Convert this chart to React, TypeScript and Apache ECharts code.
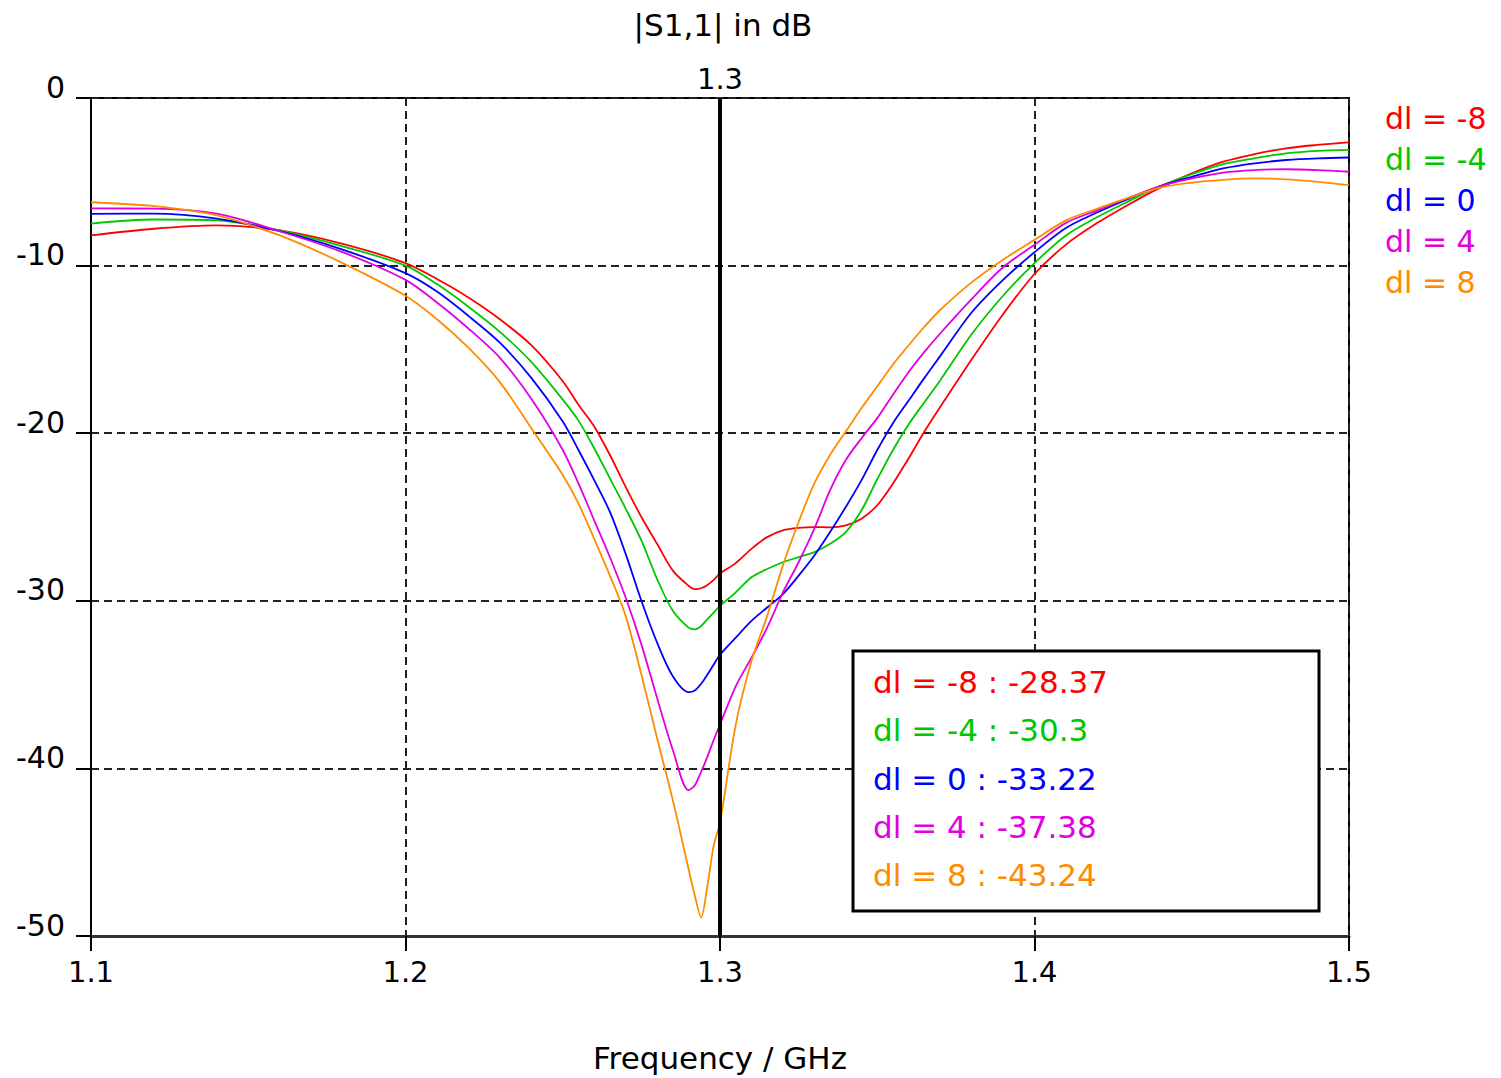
import React, { useEffect, useRef } from "react";
import * as echarts from "echarts";

const FREQ = [
  1.1, 1.12, 1.14, 1.16, 1.18, 1.2, 1.21, 1.22, 1.23, 1.24, 1.25, 1.255, 1.26, 1.265, 1.27, 1.275, 1.28, 1.285,
  1.29, 1.292, 1.294, 1.296, 1.298, 1.3, 1.305, 1.31, 1.315, 1.32, 1.325, 1.33, 1.335, 1.34, 1.345, 1.35, 1.355,
  1.36, 1.365, 1.37, 1.38, 1.39, 1.4, 1.41, 1.42, 1.43, 1.44, 1.45, 1.46, 1.47, 1.48, 1.49, 1.5,
];

const DL_M8 = [
  -8.2, -7.8, -7.6, -7.9, -8.7, -9.85, -10.8, -11.9, -13.2, -14.75, -16.9, -18.3, -19.6, -21.3, -23.2, -25.0, -26.6, -28.2,
  -29.1, -29.3, -29.25, -29.05, -28.75, -28.37, -27.75, -26.9, -26.2, -25.8, -25.65, -25.6, -25.62, -25.5, -25.1, -24.3, -23.0,
  -21.5, -19.9, -18.44, -15.6, -12.9, -10.5, -8.75, -7.45, -6.35, -5.35, -4.5, -3.8, -3.35, -3.0, -2.8, -2.65,
];
const DL_M4 = [
  -7.49, -7.25, -7.3, -7.9, -8.85, -10.0, -11.1, -12.45, -13.95, -15.75, -18.0, -19.25, -20.9, -22.7, -24.5, -26.4, -28.7, -30.6,
  -31.6, -31.7, -31.5, -31.1, -30.7, -30.3, -29.5, -28.6, -28.1, -27.7, -27.4, -27.1, -26.6, -25.9, -24.6, -22.75, -21.0,
  -19.47, -18.15, -16.85, -14.1, -11.8, -9.85, -8.2, -7.1, -6.15, -5.25, -4.55, -3.95, -3.6, -3.3, -3.15, -3.1,
];
const DL_0 = [
  -6.91, -6.9, -7.2, -7.95, -9.05, -10.45, -11.55, -13.0, -14.6, -16.7, -19.3, -21.0, -22.8, -24.7, -27.2, -30.0, -32.5, -34.5,
  -35.45, -35.35, -34.95, -34.4, -33.8, -33.22, -32.2, -31.2, -30.4, -29.6, -28.5, -27.3, -25.9, -24.4, -22.8, -21.0, -19.4,
  -18.05, -16.7, -15.4, -12.8, -10.85, -9.2, -7.75, -6.82, -6.0, -5.25, -4.7, -4.2, -3.9, -3.7, -3.6, -3.55,
];
const DL_P4 = [
  -6.59, -6.6, -6.9, -7.95, -9.2, -10.85, -12.2, -13.75, -15.5, -17.95, -21.0, -23.0, -25.2, -27.4, -29.8, -32.6, -35.8, -38.9,
  -41.3, -41.0, -40.2, -39.3, -38.3, -37.38, -35.1, -33.4, -31.6, -29.5, -27.7, -25.7, -23.4, -21.6, -20.3, -19.1, -17.7,
  -16.35, -15.15, -14.05, -12.0, -10.1, -8.76, -7.45, -6.7, -5.95, -5.25, -4.8, -4.45, -4.3, -4.25, -4.3, -4.4,
];
const DL_P8 = [
  -6.22, -6.45, -7.0, -8.2, -9.85, -11.8, -13.2, -14.9, -16.95, -19.7, -22.5, -24.2, -26.3, -28.5, -30.9, -34.4, -38.2, -41.9,
  -46.0, -47.6, -48.9, -47.0, -44.6, -43.24, -37.4, -33.6, -30.9, -27.9, -25.3, -23.0, -21.3, -19.9, -18.5, -17.2, -15.9,
  -14.75, -13.65, -12.65, -11.0, -9.65, -8.46, -7.3, -6.6, -5.95, -5.35, -5.05, -4.88, -4.8, -4.85, -5.0, -5.2,
];

const SERIES_NAMES = ["dl = -8", "dl = -4", "dl = 0", "dl = 4", "dl = 8"];
const SERIES_COLORS = ["#ff0000", "#00c800", "#0000ff", "#e100e1", "#ff8c00"];
const MARKER_FREQ = 1.3;
const MARKER_VALUES = ["-28.37", "-30.3", "-33.22", "-37.38", "-43.24"];

const TITLE = "|S1,1| in dB";
const X_NAME = "Frequency / GHz";

export default function App() {
  const ref = useRef<HTMLDivElement>(null);

  useEffect(() => {
    if (!ref.current) return;
    const chart = echarts.init(ref.current, null, { renderer: "svg" });
    const font = '"DejaVu Sans", Verdana, sans-serif';
    const values = [DL_M8, DL_M4, DL_0, DL_P4, DL_P8];

    const series: any[] = values.map((vals, i) => ({
      name: SERIES_NAMES[i],
      type: "line",
      data: FREQ.map((f, j) => [f, vals[j]]),
      symbol: "none",
      showSymbol: false,
      smooth: 0.3,
      lineStyle: { color: SERIES_COLORS[i], width: 1.8 },
      itemStyle: { color: SERIES_COLORS[i] },
      z: 3,
    }));
    series.push({
      name: "marker",
      type: "line",
      data: [],
      z: 4,
      markLine: {
        silent: true,
        symbol: "none",
        animation: false,
        lineStyle: { color: "#000", width: 4, type: "solid" },
        label: {
          show: true,
          position: "end",
          formatter: String(MARKER_FREQ),
          fontSize: 29,
          fontFamily: font,
          color: "#000",
          distance: 5,
        },
        data: [{ xAxis: MARKER_FREQ }],
      },
    });

    const boxLeft = 853;
    const boxTop = 651;
    const textEls = SERIES_NAMES.map((n, i) => ({
      type: "text",
      x: 873,
      y: 682 + i * 48.3,
      z: 20,
      style: {
        text: `${n} : ${MARKER_VALUES[i]}`,
        fill: SERIES_COLORS[i],
        font: `31px ${font}`,
        verticalAlign: "middle",
        align: "left",
      },
    }));

    chart.setOption({
      animation: false,
      backgroundColor: "#fff",
      title: {
        text: TITLE,
        left: 718,
        textAlign: "center",
        top: 4,
        textStyle: { fontSize: 31, fontWeight: "normal", color: "#000", fontFamily: font },
      },
      legend: {
        orient: "vertical",
        left: 1375,
        top: 98,
        itemWidth: 0,
        itemHeight: 0,
        itemGap: 11,
        icon: "rect",
        selectedMode: false,
        data: SERIES_NAMES.map((n, i) => ({
          name: n,
          textStyle: { color: SERIES_COLORS[i], fontSize: 30, fontFamily: font },
        })),
      },
      grid: {
        left: 91,
        right: 152,
        top: 98,
        bottom: 141,
        show: true,
        borderColor: "#000",
        borderWidth: 2,
        backgroundColor: "transparent",
      },
      xAxis: {
        type: "value",
        min: 1.1,
        max: 1.5,
        interval: 0.1,
        name: X_NAME,
        nameLocation: "middle",
        nameGap: 106,
        nameTextStyle: { fontSize: 31, color: "#000", fontFamily: font },
        axisLine: { show: true, onZero: false, lineStyle: { color: "#333", width: 3 } },
        axisTick: { show: true, inside: false, length: 15, lineStyle: { color: "#000", width: 2 } },
        axisLabel: {
          fontSize: 29,
          color: "#000",
          fontFamily: font,
          margin: 21,
          formatter: (v: number) => v.toFixed(1),
        },
        splitLine: { show: true, lineStyle: { color: "#222", width: 2, type: [8, 5] } },
      },
      yAxis: {
        type: "value",
        min: -50,
        max: 0,
        interval: 10,
        axisLine: { show: true, onZero: false, lineStyle: { color: "#000", width: 2 } },
        axisTick: { show: true, inside: false, length: 15, lineStyle: { color: "#000", width: 2 } },
        axisLabel: {
          fontSize: 30,
          color: "#000",
          fontFamily: font,
          margin: 26,
          verticalAlign: "bottom",
          lineHeight: 22,
          formatter: (v: number) => String(Math.round(v)),
        },
        splitLine: { show: true, lineStyle: { color: "#222", width: 2, type: [8, 5] } },
      },
      graphic: [
        {
          type: "rect",
          z: 19,
          shape: { x: boxLeft, y: boxTop, width: 466, height: 260 },
          style: { fill: "#fff", stroke: "#000", lineWidth: 3 },
        },
        ...textEls,
      ],
      series,
    });

    return () => chart.dispose();
  }, []);

  return (
    <div
      ref={ref}
      style={{ position: "fixed", left: 0, top: 0, width: 1501, height: 1078, background: "#fff" }}
    />
  );
}
